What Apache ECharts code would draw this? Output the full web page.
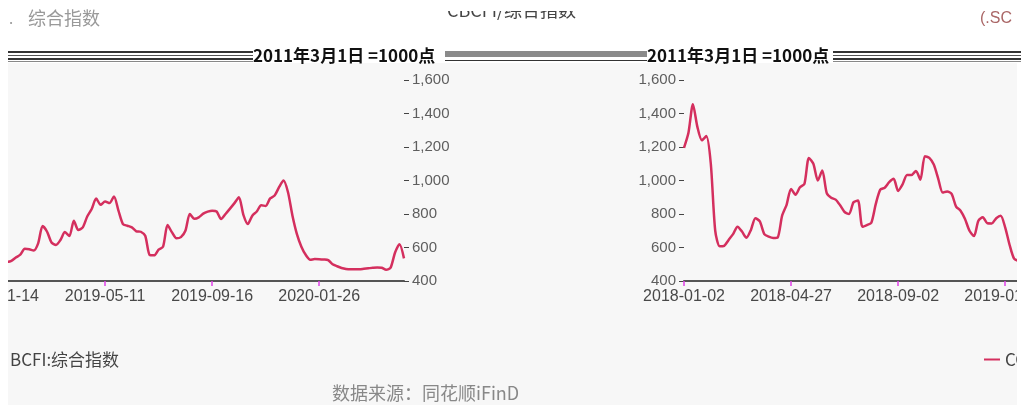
<!DOCTYPE html>
<html>
<head>
<meta charset="utf-8">
<style>
html,body{margin:0;padding:0;background:#ffffff;}
#chart{width:1021px;height:405px;}
</style>
<script src="https://cdn.jsdelivr.net/npm/echarts@6/dist/echarts.min.js"></script>
</head>
<body>
<div id="chart"></div>
<script>
// ---------- data ----------
const leftTickLabels = ['2019-01-14', '2019-05-11', '2019-09-16', '2020-01-26'];
const rightTickLabels = ['2018-01-02', '2018-04-27', '2018-09-02', '2019-01-06'];
const yTicks = [400, 600, 800, 1000, 1200, 1400, 1600];

const bcfiName = 'BCFI:综合指数';
const ccfiName = 'CCFI:综合指数';

const bcfiValues = [
  505, 510, 513, 520, 540, 557, 593, 590, 582, 625,
  728, 694, 630, 615, 645, 692, 668, 760, 704, 720,
  785, 830, 892, 855, 875, 865, 905, 820, 740, 730,
  720, 697, 694, 670, 555, 553, 587, 605, 734, 690,
  655, 662, 700, 800, 772, 780, 802, 814, 820, 815,
  770, 800, 832, 865, 900, 795, 740, 790, 815, 852,
  848, 893, 910, 960, 1000, 930, 790, 680, 605, 555,
  527, 531, 530, 528, 525, 500, 488, 478, 472, 470,
  470, 470, 473, 476, 479, 481, 479, 467, 480, 570,
  620, 535
];
const ccfiValues = [
  1195, 1285, 1455, 1320, 1240, 1265, 1103, 700, 607, 610,
  645, 680, 724, 695, 658, 705, 775, 756, 680, 665,
  657, 660, 790, 855, 950, 915, 960, 980, 1135, 1100,
  1000, 1060, 925, 897, 886, 852, 812, 800, 870, 880,
  724, 734, 748, 860, 945, 957, 990, 1010, 938, 977,
  1033, 1033, 1057, 1005, 1145, 1135, 1095, 1010, 928, 935,
  920, 844, 820, 770, 700, 668, 760, 780, 745, 744,
  775, 790, 720, 615, 533, 520, 510
];

const subtitleText = '2011年3月1日 =1000点';
const sourceText = '数据来源：同花顺iFinD';

// ---------- helpers ----------
const STEP = 24; // categories between labelled dates
function buildDates(ticks, n) {
  const t = ticks.map(s => Date.parse(s + 'T00:00:00Z'));
  const out = [];
  for (let i = 0; i < n; i++) {
    const k = Math.min(Math.floor(i / STEP), t.length - 1);
    const r = i - k * STEP;
    const span = k + 1 < t.length ? (t[k + 1] - t[k]) : (t[k] - t[k - 1]);
    const d = new Date(t[k] + Math.round(r * span / STEP / 864e5) * 864e5);
    out.push(d.toISOString().slice(0, 10));
  }
  return out;
}
const leftDates = buildDates(leftTickLabels, bcfiValues.length);
const rightDates = buildDates(rightTickLabels, ccfiValues.length);

const LINE = '#d42f5e';
const FONT = "'Liberation Sans','Noto Sans CJK SC',sans-serif";
const CJK = "'Noto Sans CJK SC',sans-serif";

function xAxisCfg(grid, data) {
  return {
    type: 'category', gridIndex: grid, data: data, boundaryGap: false,
    axisLine: { show: true, lineStyle: { color: '#555', width: 2 } },
    axisTick: { show: true, interval: STEP - 1, length: 5, lineStyle: { color: '#e040e8', width: 1.5 } },
    axisLabel: { interval: STEP - 1, color: '#484848', fontSize: 16, fontFamily: FONT, margin: 8, hideOverlap: false },
    splitLine: { show: false }
  };
}
function yAxisCfg(grid, pos) {
  return {
    type: 'value', gridIndex: grid, position: pos,
    min: yTicks[0], max: yTicks[yTicks.length - 1], interval: 200,
    axisLine: { show: false },
    axisTick: { show: true, length: 5, lineStyle: { color: '#444' } },
    axisLabel: {
      color: '#5e5e5e', fontSize: 15, fontFamily: FONT, margin: 8,
      formatter: v => v.toLocaleString('en-US')
    },
    splitLine: { show: false }
  };
}
function seriesCfg(name, x, y, data) {
  return {
    name: name, type: 'line', xAxisIndex: x, yAxisIndex: y, data: data,
    smooth: 0.25, symbol: 'none', showSymbol: false,
    lineStyle: { color: LINE, width: 2.5 },
    itemStyle: { color: LINE },
    emphasis: { disabled: true }
  };
}

function bandLines(x, w) {
  return [
    { type: 'rect', shape: { x: x, y: 51, width: w, height: 2 }, style: { fill: '#333' }, z: 50 },
    { type: 'rect', shape: { x: x, y: 55, width: w, height: 1 }, style: { fill: '#555' }, z: 50 },
    { type: 'rect', shape: { x: x, y: 58, width: w, height: 2 }, style: { fill: '#333' }, z: 50 },
    { type: 'rect', shape: { x: x, y: 61, width: w, height: 1 }, style: { fill: '#888' }, z: 50 }
  ];
}

const legendBase = {
  icon: 'rect', itemWidth: 16, itemHeight: 2, itemGap: 5, padding: 0,
  itemStyle: { borderWidth: 0 },
  textStyle: { color: '#444', fontSize: 17, fontFamily: CJK }
};

const chart = echarts.init(document.getElementById('chart'), null, { renderer: 'canvas' });
chart.setOption({
  animation: false,
  backgroundColor: 'transparent',
  grid: [
    { left: -2, right: 617, top: 80, bottom: 124, containLabel: false, outerBoundsMode: 'none' },
    { left: 684, right: -2, top: 80, bottom: 124, containLabel: false, outerBoundsMode: 'none' }
  ],
  xAxis: [xAxisCfg(0, leftDates), xAxisCfg(1, rightDates)],
  yAxis: [yAxisCfg(0, 'right'), yAxisCfg(1, 'left')],
  legend: [
    Object.assign({ data: [bcfiName], left: -11, top: 351 }, legendBase),
    Object.assign({ data: [ccfiName], left: 984, top: 351 }, legendBase)
  ],
  series: [
    seriesCfg(bcfiName, 0, 0, bcfiValues),
    seriesCfg(ccfiName, 1, 1, ccfiValues)
  ],
  graphic: [
    // panel background
    { type: 'rect', shape: { x: 8, y: 63, width: 1009, height: 342 }, style: { fill: '#f7f7f7' }, z: -100, silent: true },
    // top texts
    { type: 'text', left: 9, top: 11, style: { text: '.', fill: '#999', fontSize: 15, fontFamily: CJK }, z: 50 },
    { type: 'text', left: 28, top: 9, style: { text: '综合指数', fill: '#999', fontSize: 18, fontFamily: CJK, letterSpacing: 3 }, z: 50 },
    { type: 'text', left: 447, top: 1, style: { text: 'CBCFI/综合指数', fill: '#444', fontSize: 18, fontFamily: CJK }, z: 50 },
    { type: 'rect', shape: { x: 380, y: 0, width: 260, height: 11 }, style: { fill: '#ffffff' }, z: 60 },
    { type: 'text', left: 980, top: 11, style: { text: '(.SC', fill: '#a66', fontSize: 16, fontFamily: FONT }, z: 50 },
    // subtitle band
    ...bandLines(8, 245),
    { type: 'text', left: 253, top: 47, style: { text: subtitleText, fill: '#111', fontSize: 17, fontWeight: 'bold', fontFamily: CJK }, z: 55 },
    { type: 'rect', shape: { x: 445, y: 51, width: 202, height: 6 }, style: { fill: '#8a8a8a' }, z: 50 },
    { type: 'rect', shape: { x: 445, y: 60, width: 202, height: 1 }, style: { fill: '#333' }, z: 50 },
    { type: 'text', left: 647, top: 47, style: { text: subtitleText, fill: '#111', fontSize: 17, fontWeight: 'bold', fontFamily: CJK }, z: 55 },
    ...bandLines(833, 188),
    // source
    { type: 'text', left: 332, top: 384, style: { text: sourceText, fill: '#888', fontSize: 18, fontFamily: CJK }, z: 50 },
    // white crop strips
    { type: 'rect', shape: { x: 0, y: 63, width: 8, height: 342 }, style: { fill: '#ffffff' }, z: 100 },
    { type: 'rect', shape: { x: 1017, y: 63, width: 4, height: 342 }, style: { fill: '#ffffff' }, z: 100 }
  ]
});
</script>
</body>
</html>
